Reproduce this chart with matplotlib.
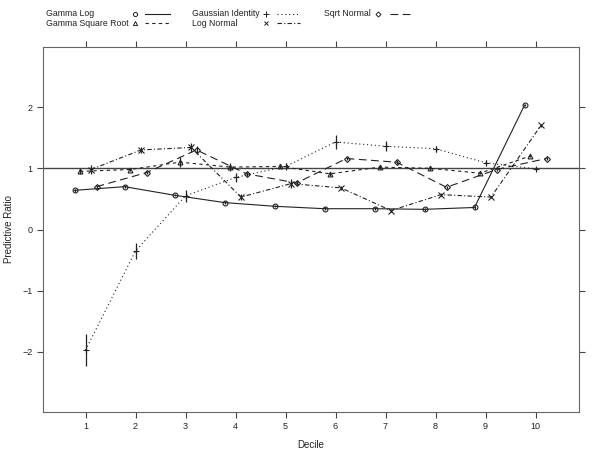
import numpy as np
import matplotlib
matplotlib.use("Agg")
from matplotlib import pyplot as plt
from matplotlib.lines import Line2D

plt.rcParams['font.family'] = ['Liberation Sans', 'DejaVu Sans']

# Data
deciles = np.arange(1, 11)
series_names = ["Gamma Log", "Gamma Square Root", "Gaussian Identity", "Log Normal", "Sqrt Normal"]

gamma_log = [0.64, 0.70, 0.56, 0.44, 0.38, 0.34, 0.34, 0.33, 0.36, 2.03]
gamma_log_err = [0.02, 0.02, 0.02, 0.02, 0.02, 0.02, 0.02, 0.02, 0.02, 0.02]

gamma_sqrt = [0.95, 0.98, 1.10, 1.02, 1.03, 0.91, 1.02, 1.00, 0.92, 1.20]
gamma_sqrt_err = [0.04, 0.03, 0.08, 0.07, 0.03, 0.03, 0.03, 0.02, 0.02, 0.02]

gauss_id = [-1.97, -0.35, 0.55, 0.85, 1.03, 1.43, 1.36, 1.32, 1.09, 0.99]
gauss_id_err = [0.26, 0.13, 0.10, 0.08, 0.05, 0.11, 0.08, 0.05, 0.04, 0.02]

log_normal = [0.98, 1.30, 1.34, 0.53, 0.75, 0.68, 0.31, 0.57, 0.53, 1.70]
log_normal_err = [0.07, 0.05, 0.07, 0.05, 0.07, 0.03, 0.02, 0.02, 0.02, 0.02]

sqrt_normal = [0.70, 0.93, 1.30, 0.91, 0.76, 1.16, 1.10, 0.69, 0.98, 1.16]
sqrt_normal_err = [0.03, 0.03, 0.07, 0.03, 0.03, 0.03, 0.03, 0.02, 0.02, 0.02]

values = [gamma_log, gamma_sqrt, gauss_id, log_normal, sqrt_normal]
errors = [gamma_log_err, gamma_sqrt_err, gauss_id_err, log_normal_err, sqrt_normal_err]

# styles
offsets = [-0.22, -0.11, 0.0, 0.11, 0.22]
markers = ['o', '^', '+', 'x', 'D']
msizes = [3.5, 3.5, 5, 4, 3]
dashes = [(None, None), (3, 3), (1, 2.5), (4, 2, 1, 2), (7, 4)]
ink = '#222222'

fig = plt.figure(figsize=(6, 4.57), dpi=100)
ax = fig.add_axes([0.0717, 0.0985, 0.8933, 0.7985])

ax.axhline(1, color='#444444', lw=1.0, zorder=1)

for i in range(5):
    x = deciles + offsets[i]
    y = np.array(values[i])
    e = np.array(errors[i])
    ln, = ax.plot(x, y, color=ink, lw=0.8, zorder=2)
    if dashes[i][0] is not None:
        ln.set_dashes(dashes[i])
    ax.vlines(x, y - e, y + e, color=ink, lw=0.9, zorder=3)
    ax.plot(x, y, ls='none', marker=markers[i], ms=msizes[i], mfc='none',
            mec=ink, mew=0.8, zorder=4)

ax.set_xlim(0.15, 10.87)
ax.set_ylim(-2.98, 2.98)
ax.set_xticks(deciles)
ax.set_yticks([-2, -1, 0, 1, 2])
ax.tick_params(direction='out', length=4, width=0.8, color='#444444',
               labelsize=6.5, labelcolor='#222222', top=True, right=True,
               labeltop=False, labelright=False)
for s in ax.spines.values():
    s.set_color('#666666')
    s.set_linewidth(0.8)
ax.set_xlabel('Decile', fontsize=7, color='#222222', labelpad=6)
ax.set_ylabel('Predictive Ratio', fontsize=7, color='#222222', labelpad=12)
ax.yaxis.set_label_coords(-0.055, 0.5)

# legend at the top, lattice style: text, symbol, line
W, H = 600.0, 457.0
cols = [(46, 135, 145, 170), (192, 266, 277, 300), (324, 378, 390, 413)]
rows = [14, 23]
slots = [(0, 0), (0, 1), (1, 0), (1, 1), (2, 0)]
for i, (c, r) in enumerate(slots):
    tx, mx, l0, l1 = cols[c]
    yy = 1 - rows[r] / H
    fig.text(tx / W, yy, series_names[i], fontsize=6.3, color='#222222', va='center')
    fig.add_artist(Line2D([mx / W], [yy], marker=markers[i], ms=msizes[i] * 0.85,
                          mfc='none', mec=ink, mew=0.7, ls='none'))
    lg = Line2D([l0 / W, l1 / W], [yy, yy], color=ink, lw=0.8)
    if dashes[i][0] is not None:
        lg.set_dashes(dashes[i])
    fig.add_artist(lg)

fig.savefig('out.png', dpi=100)
